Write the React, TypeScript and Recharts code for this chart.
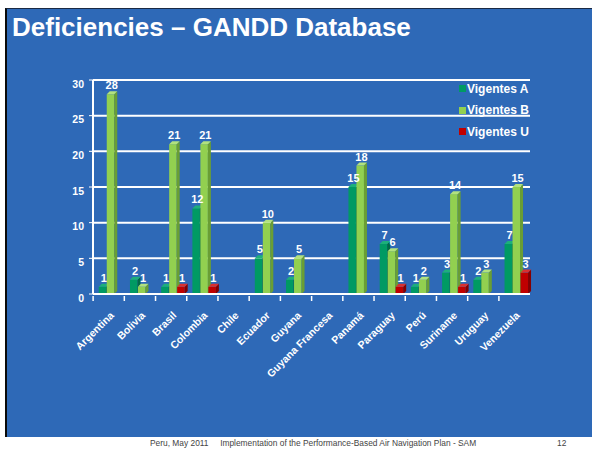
import React from "react";
import {
  BarChart,
  Bar,
  XAxis,
  YAxis,
  CartesianGrid,
  LabelList,
} from "recharts";

const countries = [
  "Argentina",
  "Bolivia",
  "Brasil",
  "Colombia",
  "Chile",
  "Ecuador",
  "Guyana",
  "Guyana Francesa",
  "Panamá",
  "Paraguay",
  "Perú",
  "Suriname",
  "Uruguay",
  "Venezuela",
];
const vigentesA = [1, 2, 1, 12, 0, 5, 2, 0, 15, 7, 1, 3, 2, 7];
const vigentesB = [28, 1, 21, 21, 0, 10, 5, 0, 18, 6, 2, 14, 3, 15];
const vigentesU = [0, 0, 1, 1, 0, 0, 0, 0, 0, 1, 0, 1, 0, 3];
const yTicks = [0, 5, 10, 15, 20, 25, 30];

const data = countries.map((name, i) => ({
  name,
  a: vigentesA[i],
  b: vigentesB[i],
  u: vigentesU[i],
}));

const BLUE = "#2E69B7";
const FONT = "Liberation Sans, Arial, sans-serif";
const series = [
  { key: "a", name: "Vigentes A", color: "#009A63", side: "#006B45", top: "#1DB07A" },
  { key: "b", name: "Vigentes B", color: "#92D050", side: "#6A9E34", top: "#B2E27E" },
  { key: "u", name: "Vigentes U", color: "#C00000", side: "#860000", top: "#DA3030" },
];

const make3D = (color: string, side: string, top: string) => (props: any) => {
  const { y, width, height } = props;
  if (!height || height <= 0) return null;
  const x = props.x + 2;
  const d = 3;
  const w = width - 0.5;
  return (
    <g>
      <rect x={x} y={y} width={w} height={height} fill={color} />
      <polygon
        points={`${x + w},${y} ${x + w + d},${y - d} ${x + w + d},${y + height - d} ${x + w},${y + height}`}
        fill={side}
      />
      <polygon
        points={`${x},${y} ${x + d},${y - d} ${x + w + d},${y - d} ${x + w},${y}`}
        fill={top}
      />
    </g>
  );
};

const CatTick = (props: any) => {
  const { x, y, payload } = props;
  return (
    <g transform={`translate(${x},${y})`}>
      <line x1={-15.5} y1={-6} x2={-15.5} y2={-1} stroke="#fff" strokeWidth={1.5} />
      <text
        x={0}
        y={0}
        transform="translate(6,14) rotate(-45)"
        textAnchor="end"
        fill="#fff"
        fontSize={10.5}
        fontWeight="bold"
        fontFamily={FONT}
      >
        {payload.value}
      </text>
    </g>
  );
};

const renderLabel = (props: any) => {
  const { x, y, width, value } = props;
  if (!value) return null;
  return (
    <text
      x={x + width / 2 + 3}
      y={y - 5}
      textAnchor="middle"
      fill="#fff"
      fontSize={11}
      fontWeight="bold"
      fontFamily={FONT}
    >
      {value}
    </text>
  );
};

export default function App() {
  return (
    <div
      style={{
        position: "absolute",
        left: 0,
        top: 0,
        width: 592,
        height: 449,
        background: "#fff",
        overflow: "hidden",
      }}
    >
      <div
        style={{
          position: "absolute",
          left: 5,
          top: 8,
          width: 587,
          height: 429,
          background: BLUE,
          borderLeft: "2px solid #0a0a0a",
          borderTop: "1px solid #1a2a44",
          boxSizing: "border-box",
        }}
      />
      <div
        style={{
          position: "absolute",
          left: 12,
          top: 12,
          color: "#fff",
          fontFamily: FONT,
          fontWeight: "bold",
          fontSize: 26,
          lineHeight: "30px",
        }}
      >
        Deficiencies – GANDD Database
      </div>
      <div
        style={{
          position: "absolute",
          left: 150,
          top: 438,
          color: "#444",
          fontFamily: FONT,
          fontSize: 8.4,
          lineHeight: "10px",
          whiteSpace: "nowrap",
        }}
      >
        Peru, May 2011&nbsp;&nbsp;&nbsp;&nbsp; Implementation of the Performance-Based Air Navigation Plan - SAM
      </div>
      <div
        style={{
          position: "absolute",
          left: 557,
          top: 438,
          color: "#444",
          fontFamily: FONT,
          fontSize: 8.4,
          lineHeight: "10px",
        }}
      >
        12
      </div>
      <div style={{ position: "absolute", left: 0, top: 0 }}>
        <BarChart
          width={533}
          height={449}
          data={data}
          margin={{ top: 80, right: 3, left: 63, bottom: 55 }}
          barCategoryGap="12%"
          barGap={0}
        >
          <CartesianGrid horizontal vertical={false} stroke="#fff" strokeWidth={2} strokeOpacity={1} />
          <XAxis
            dataKey="name"
            interval={0}
            height={100}
            axisLine={{ stroke: "#fff", strokeWidth: 2 }}
            tickLine={false}
            tick={<CatTick />}
          />
          <YAxis
            width={30}
            domain={[0, 30]}
            ticks={yTicks}
            interval={0}
            axisLine={{ stroke: "#fff", strokeWidth: 2 }}
            tickLine={{ stroke: "#fff" }}
            tickSize={4}
            tickMargin={5}
            tick={{
              fill: "#fff",
              fontSize: 10.5,
              fontWeight: "bold",
              fontFamily: FONT,
              dy: 4,
            }}
          />
          {series.map((s) => (
            <Bar
              key={s.key}
              dataKey={s.key}
              name={s.name}
              fill={s.color}
              isAnimationActive={false}
              shape={make3D(s.color, s.side, s.top)}
            >
              <LabelList dataKey={s.key} content={renderLabel} />
            </Bar>
          ))}
        </BarChart>
      </div>
      <div
        style={{
          position: "absolute",
          left: 459,
          top: 78,
          fontFamily: FONT,
        }}
      >
        {series.map((s) => (
          <div
            key={s.key}
            style={{
              display: "flex",
              alignItems: "center",
              height: 21.5,
              color: "#fff",
              fontWeight: "bold",
              fontSize: 12,
              whiteSpace: "nowrap",
            }}
          >
            <span
              style={{
                display: "inline-block",
                width: 7,
                height: 7,
                background: s.color,
                marginRight: 1,
              }}
            />
            {s.name}
          </div>
        ))}
      </div>
    </div>
  );
}
